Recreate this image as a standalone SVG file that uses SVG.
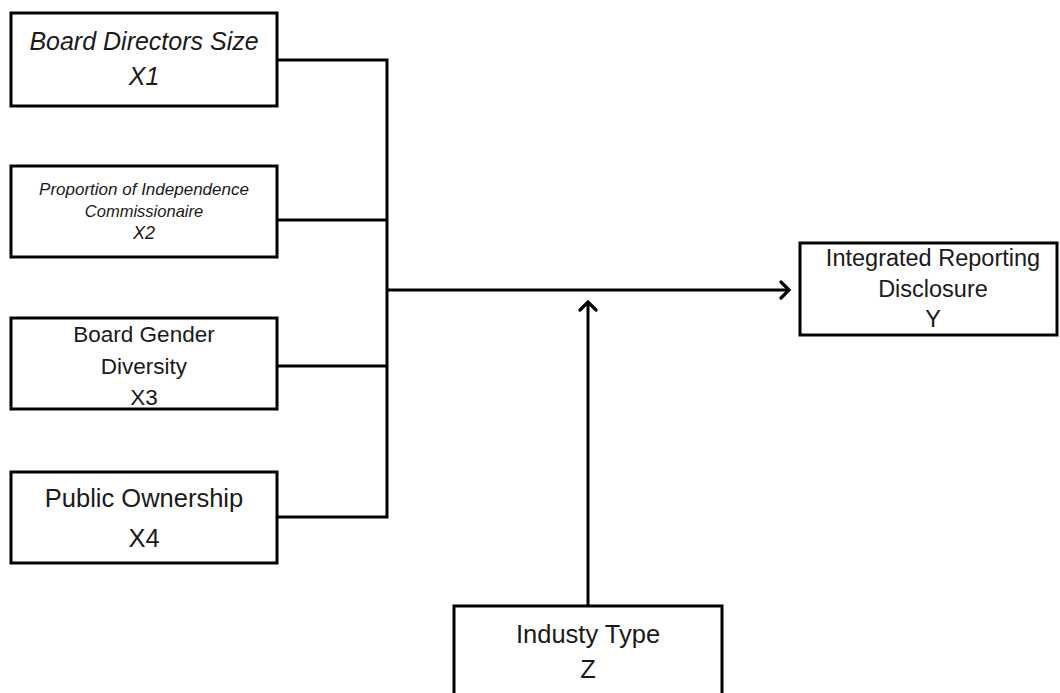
<svg xmlns="http://www.w3.org/2000/svg" width="1060" height="693" viewBox="0 0 1060 693">
<style>
.box{fill:#fff;stroke:#000;stroke-width:3}
.t{font-family:"Liberation Sans",Arial,sans-serif;fill:#1a1a1a;text-anchor:middle}
.i{font-style:italic}
.c{fill:none;stroke:#000;stroke-width:3}
</style>
<defs>
<marker id="arr" viewBox="0 0 20 20" refX="17" refY="10" markerWidth="20" markerHeight="20" markerUnits="userSpaceOnUse" orient="auto">
<polyline points="9,2 17,10 9,18" fill="none" stroke="#000" stroke-width="3.2" stroke-linecap="round" stroke-linejoin="miter"/>
</marker>
</defs>
<g id="connectors">
<path class="c" d="M277,60 H387 V517 H277"/>
<path class="c" d="M277,220 H387"/>
<path class="c" d="M277,366 H387"/>
<path class="c" d="M387,290 H789" marker-end="url(#arr)"/>
<path class="c" d="M588,606 V302" marker-end="url(#arr)"/>
</g>
<g id="x1">
<rect class="box" x="11" y="13" width="266" height="93"/>
<text class="t i" x="144" y="50" font-size="25">Board Directors Size</text>
<text class="t i" x="144" y="85" font-size="25">X1</text>
</g>
<g id="x2">
<rect class="box" x="11" y="166" width="266" height="91"/>
<text class="t i" x="144" y="195" font-size="17">Proportion of Independence</text>
<text class="t i" x="144" y="217" font-size="16.5">Commissionaire</text>
<text class="t i" x="144" y="239" font-size="18">X2</text>
</g>
<g id="x3">
<rect class="box" x="11" y="318" width="266" height="91"/>
<text class="t" x="144" y="342" font-size="22.5">Board Gender</text>
<text class="t" x="144" y="374" font-size="22.5">Diversity</text>
<text class="t" x="144" y="405" font-size="22.5">X3</text>
</g>
<g id="x4">
<rect class="box" x="11" y="472" width="266" height="91"/>
<text class="t" x="144" y="507" font-size="25.5">Public Ownership</text>
<text class="t" x="144" y="547" font-size="25.5">X4</text>
</g>
<g id="y">
<rect class="box" x="800" y="243" width="257" height="92"/>
<text class="t" x="933" y="266" font-size="23.5">Integrated Reporting</text>
<text class="t" x="933" y="297" font-size="23.5">Disclosure</text>
<text class="t" x="933" y="327" font-size="23.5">Y</text>
</g>
<g id="z">
<rect class="box" x="454" y="606" width="268" height="100"/>
<text class="t" x="588" y="643" font-size="25.5">Industy Type</text>
<text class="t" x="588" y="678" font-size="25.5">Z</text>
</g>
</svg>
